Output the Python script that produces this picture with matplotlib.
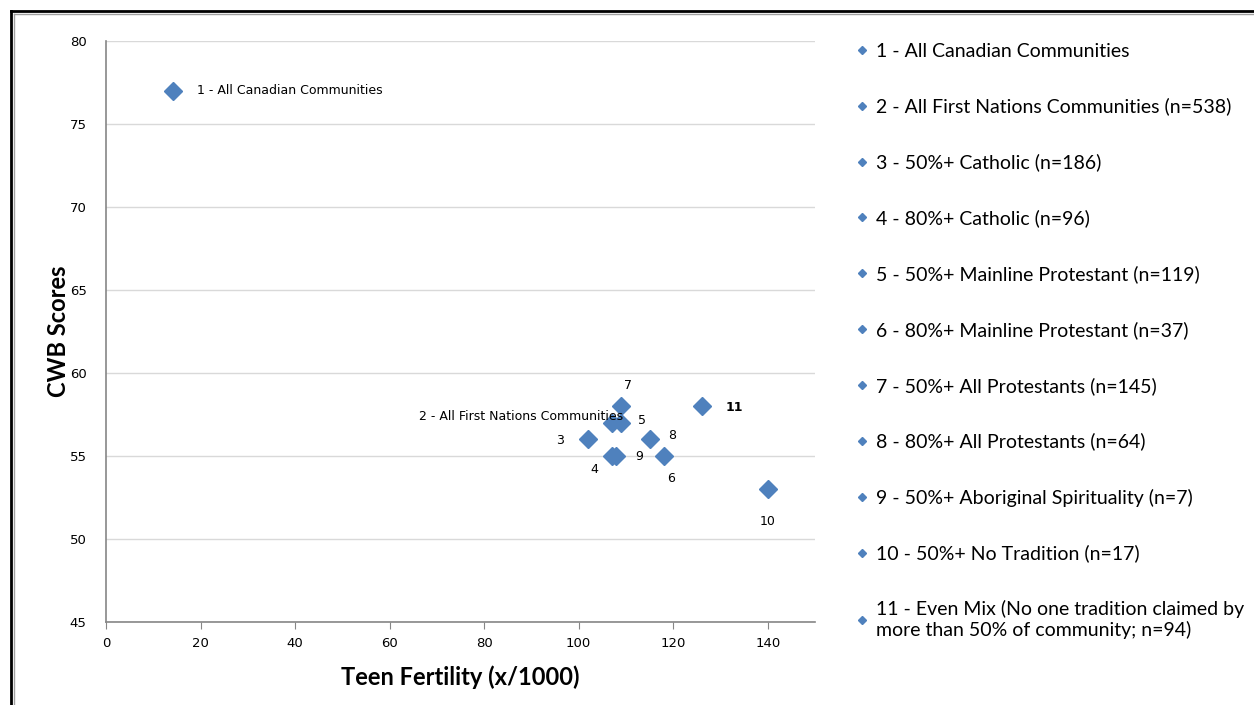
import matplotlib.pyplot as plt
from matplotlib.lines import Line2D

# datos
labels = ['1 - All Canadian Communities',
          '2 - All First Nations Communities (n=538)',
          '3 - 50%+ Catholic (n=186)',
          '4 - 80%+ Catholic (n=96)',
          '5 - 50%+ Mainline Protestant (n=119)',
          '6 - 80%+ Mainline Protestant (n=37)',
          '7 - 50%+ All Protestants (n=145)',
          '8 - 80%+ All Protestants (n=64)',
          '9 - 50%+ Aboriginal Spirituality (n=7)',
          '10 - 50%+ No Tradition (n=17)',
          '11 - Even Mix (No one tradition claimed by\nmore than 50% of community; n=94)']
teen_fert = [14.2, 107, 102, 107, 109, 118, 109, 115, 108, 140, 126]
cwb = [77, 57, 56, 55, 57, 55, 58, 56, 55, 53, 58]
point_text = ['1 - All Canadian Communities', '2 - All First Nations Communities',
              '3', '4', '5', '6', '7', '8', '9', '10', '11']

# desplazamiento de cada etiqueta (pixeles)
offs = [(24, 0, 'left'), (11, 6, 'right'), (-28, -1, 'center'), (-17, -14, 'center'),
        (21, 2, 'center'), (7, -23, 'center'), (7, 21, 'center'), (23, 4, 'center'),
        (23, -1, 'center'), (0, -32, 'center'), (33, -1, 'center')]

azul = '#4F81BD'

fig = plt.figure(figsize=(12.54, 7.05), dpi=100)
ax = fig.add_axes([106/1254, 1-622/705, (815-106)/1254, (622-41)/705])

for i in range(len(labels)):
    ax.plot(teen_fert[i], cwb[i], 'D', color=azul, markersize=9.5, label=labels[i],
            markeredgewidth=1, markeredgecolor=azul)
    dx, dy, ha = offs[i]
    ax.annotate(point_text[i], (teen_fert[i], cwb[i]), xytext=(dx, dy),
                textcoords='offset pixels', ha=ha, va='center', fontsize=9,
                fontweight='bold' if i == 10 else 'normal', color='black')

ax.set_xlim(0, 150)
ax.set_ylim(45, 80)
ax.set_xticks(range(0, 141, 20))
ax.set_yticks(range(45, 81, 5))
ax.grid(axis='y', color='#D9D9D9', linewidth=1)
ax.set_axisbelow(True)
for s in ['top', 'right']:
    ax.spines[s].set_visible(False)
for s in ['left', 'bottom']:
    ax.spines[s].set_color('#868686')
    ax.spines[s].set_linewidth(1.2)
ax.tick_params(axis='x', direction='out', length=5, color='#868686', labelsize=9.5, pad=6)
ax.tick_params(axis='y', length=0, labelsize=9.5, pad=14)

ax.set_xlabel('Teen Fertility (x/1000)', fontsize=17, fontweight='bold', family='Lato', labelpad=11)
ax.set_ylabel('CWB Scores', fontsize=17, fontweight='bold', family='Lato', labelpad=0)

leg = fig.legend(loc='upper left', bbox_to_anchor=(848/1254, 1-35/705), frameon=False,
                 prop={'family': 'Lato', 'size': 14}, markerscale=0.38, handlelength=0.6,
                 handletextpad=0.45, labelspacing=1.95, borderaxespad=0)

# marco
fig.add_artist(Line2D([11/1254, 11/1254], [0, 1-11/705], color='black', linewidth=2))
fig.add_artist(Line2D([11/1254, 1], [1-11/705, 1-11/705], color='black', linewidth=2))
fig.add_artist(Line2D([13.5/1254, 13.5/1254], [0, 1-13.5/705], color='#A0A0A0', linewidth=1))
fig.add_artist(Line2D([13.5/1254, 1], [1-13.5/705, 1-13.5/705], color='#A0A0A0', linewidth=1))

plt.savefig('out.png', dpi=100)
